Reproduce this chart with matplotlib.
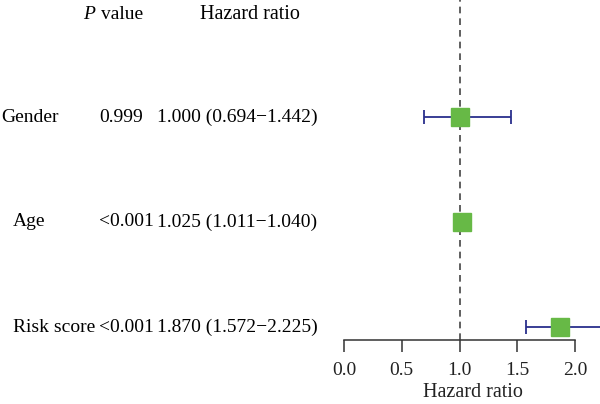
import matplotlib.pyplot as plt

# Data
variables = ["Gender", "Age", "Risk score"]
p_values = ["0.999", "<0.001", "<0.001"]
hr = [1.000, 1.025, 1.870]
hr_low = [0.694, 1.011, 1.572]
hr_high = [1.442, 1.040, 2.225]
xticks = [0.0, 0.5, 1.0, 1.5, 2.0]

plt.rcParams['font.family'] = ['Liberation Serif', 'DejaVu Serif']
fs = 14

fig = plt.figure(figsize=(6, 4.04), dpi=100)
ax = fig.add_axes([344 / 600, 64 / 404, 2.23 * 115.5 / 600, 340 / 404])

ypos = [3, 2, 1]
ax.set_ylim(1 - 13 / 105, 3 + 117 / 105)
ax.set_xlim(0, 2.23)

# reference line at HR = 1
ax.axvline(1.0, color='#444444', linestyle=(0, (4, 3)), linewidth=1.2, zorder=1)

for y, h, lo, hi in zip(ypos, hr, hr_low, hr_high):
    ax.errorbar(h, y, xerr=[[h - lo], [hi - h]], fmt='none', ecolor='#2a2f8c',
                elinewidth=1.3, capsize=4.8, capthick=1.3, zorder=2, clip_on=False)
    ax.plot(h, y, marker='s', markersize=12.5, color='#67b946',
            markeredgecolor='#67b946', zorder=3, clip_on=False)

# left table (x positions given in figure pixels)
tr = ax.get_yaxis_transform()


def px(x):
    return (x - 344) / (2.23 * 115.5)


for y, name, p, h, lo, hi in zip(ypos, variables, p_values, hr, hr_low, hr_high):
    x0 = 1 if name == "Gender" else 13
    ax.text(px(x0), y, name, fontsize=fs, va='center', ha='left', transform=tr)
    ax.text(px(99), y, p, fontsize=fs, va='center', ha='left', transform=tr)
    ax.text(px(157), y, f"{h:.3f} ({lo:.3f}\u2212{hi:.3f})", fontsize=fs,
            va='center', ha='left', transform=tr)

ax.text(px(83), 3.98, "P", fontsize=fs, fontstyle='italic', va='center', ha='left', transform=tr)
ax.text(px(101), 3.98, "value", fontsize=fs, va='center', ha='left', transform=tr)
ax.text(px(200), 3.98, "Hazard ratio", fontsize=14.5, va='center', ha='left', transform=tr)

# axes styling
for s in ['top', 'right', 'left']:
    ax.spines[s].set_visible(False)
ax.spines['bottom'].set_bounds(0, 2)
ax.spines['bottom'].set_color('#333333')
ax.spines['bottom'].set_linewidth(1.1)
ax.set_yticks([])
ax.set_xticks(xticks)
ax.set_xticklabels([f"{v:.1f}" for v in xticks])
ax.tick_params(axis='x', length=8.5, width=1.1, colors='#333333', labelsize=fs,
               labelcolor='#222222', pad=7)
ax.set_xlabel("Hazard ratio", fontsize=14.5, color='#222222', labelpad=3)

fig.savefig("out.png", dpi=100)
